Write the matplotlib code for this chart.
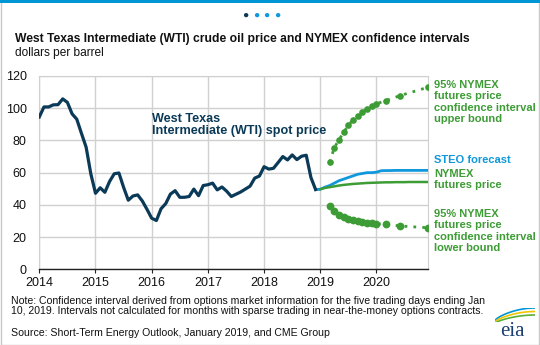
import numpy as np
import pandas as pd
import matplotlib
matplotlib.use("Agg")
import matplotlib.pyplot as plt
from matplotlib.patches import Rectangle

plt.rcParams['font.family'] = ['Liberation Sans', 'DejaVu Sans']

# ---- data (dollars per barrel) ----
wti_start = '2014-01'
wti_spot = [94.6, 100.8, 100.8, 102.1, 102.2, 105.8, 103.6, 96.5, 93.2, 84.4, 75.8, 59.3,
            47.2, 50.6, 47.8, 54.5, 59.3, 59.8, 50.9, 42.9, 45.5, 46.2, 42.4, 37.2,
            31.7, 30.3, 37.6, 40.8, 46.7, 48.8, 44.7, 44.7, 45.2, 49.8, 45.7, 52.0,
            52.5, 53.5, 49.3, 51.1, 48.5, 45.2, 46.6, 48.0, 49.8, 51.6, 56.6, 57.9,
            63.7, 62.2, 62.7, 66.3, 70.0, 67.9, 71.0, 68.1, 70.2, 70.8, 57.0, 49.5]

steo_start = '2018-12'
steo_forecast = [49.5, 49.7, 51.0, 52.0, 53.5, 55.0, 56.0, 57.0, 58.0, 59.0, 59.5, 60.0, 60.0,
                 60.3, 61.2, 61.3, 61.3, 61.4, 61.4, 61.4, 61.4, 61.4, 61.4, 61.4, 61.4]

nymex_start = '2019-01'
nymex_futures = [49.7, 50.5, 51.0, 51.5, 52.0, 52.4, 52.7, 53.0, 53.2, 53.4, 53.6, 53.7,
                 53.8, 53.9, 54.0, 54.0, 54.1, 54.1, 54.1, 54.2, 54.2, 54.2, 54.2, 54.2]

ci_dates = ['2019-03', '2019-04', '2019-05', '2019-06', '2019-07', '2019-08', '2019-09',
            '2019-10', '2019-11', '2019-12', '2020-01', '2020-03', '2020-06', '2020-12']
ci_upper = [66.4, 75.5, 80.5, 85.0, 89.5, 92.7, 95.4, 97.6, 99.7, 101.4, 102.8, 104.7, 107.8, 113.0]
ci_lower = [39.5, 36.5, 34.0, 32.5, 31.3, 30.5, 29.8, 29.2, 28.8, 28.5, 28.3, 27.9, 26.9, 25.8]

year_ticks = [2014, 2015, 2016, 2017, 2018, 2019, 2020]


def frac_years(dates):
    d = pd.to_datetime(dates)
    return d.year + (d.month - 1) / 12.0


def monthly(start, n):
    return frac_years(pd.date_range(start, periods=n, freq='MS'))


NAVY = '#0a3a57'
BLUE = '#0f98dc'
GREEN = '#3d9c35'

fig = plt.figure(figsize=(5.4, 3.45), dpi=100)

# frame, top bar and page dots
fig.patches.append(Rectangle((0.001, 0.001), 0.997, 0.996, transform=fig.transFigure,
                             fill=False, edgecolor='#c8c8c8', linewidth=1))
fig.patches.append(Rectangle((0, 0.992), 1, 0.008, transform=fig.transFigure,
                             facecolor='#0096d6', edgecolor='none'))
for i, c in enumerate([NAVY, '#0f98dc', '#0f98dc', '#0f98dc']):
    fig.text((245.5 + i * 10.6) / 540, 1 - 14.5 / 345, '\u25CF', color=c, fontsize=7.5,
             ha='center', va='center')

fig.text(15 / 540, 1 - 39 / 345, 'West Texas Intermediate (WTI) crude oil price and NYMEX confidence intervals',
         fontsize=8.7, fontweight='bold', color='#111111', va='center')
fig.text(15 / 540, 1 - 53 / 345, 'dollars per barrel', fontsize=8.6, color='#111111', va='center')

ax = fig.add_axes([39.3 / 540, 1 - 269.3 / 345, (428 - 39.3) / 540, (269.3 - 76) / 345])

ax.plot(monthly(wti_start, len(wti_spot)), wti_spot, color=NAVY, lw=2.3, solid_joinstyle='round', zorder=4)
ax.plot(monthly(steo_start, len(steo_forecast)), steo_forecast, color=BLUE, lw=2.0, zorder=3)
ax.plot(monthly(nymex_start, len(nymex_futures)), nymex_futures, color=GREEN, lw=1.8, zorder=3)
ax.plot(frac_years(ci_dates), ci_upper, color=GREEN, lw=2, ls=(0, (1, 2.2)), marker='o',
        ms=4.8, markeredgewidth=0, zorder=3)
ax.plot(frac_years(ci_dates), ci_lower, color=GREEN, lw=2, ls=(0, (1, 2.2)), marker='o',
        ms=5.6, markeredgewidth=0, zorder=3)

ax.set_xlim(2014, 2020 + 11 / 12)
ax.set_ylim(0, 120)
ax.set_xticks(year_ticks)
ax.set_xticklabels([str(y) for y in year_ticks])
ax.set_yticks(range(0, 121, 20))
ax.grid(True, color='#d0d0d0', lw=1)
ax.set_axisbelow(True)
for s in ['top', 'right', 'left']:
    ax.spines[s].set_color('#d0d0d0')
ax.spines['bottom'].set_color('#222222')
ax.spines['bottom'].set_linewidth(1)
ax.tick_params(axis='y', length=0, pad=9, labelsize=9, labelcolor='#111111')
ax.tick_params(axis='x', length=3, direction='out', color='#222222', pad=2.5, labelsize=9,
               labelcolor='#111111')
ax.set_facecolor('white')

ax.text(2016.0, 89.6, 'West Texas\nIntermediate (WTI) spot price', color=NAVY, fontsize=9.1,
        fontweight='bold', va='center', ha='left', linespacing=1.1)

# right-side labels
lab = dict(fontsize=8, fontweight='bold', va='center', linespacing=1.15)
fig.text(434 / 540, 1 - 102 / 345, '95% NYMEX\nfutures price\nconfidence interval\nupper bound',
         color=GREEN, **lab)
fig.text(434 / 540, 1 - 160 / 345, 'STEO forecast', color=BLUE, **lab)
fig.text(434 / 540, 1 - 179.5 / 345, 'NYMEX\nfutures price', color=GREEN, **lab)
fig.text(434 / 540, 1 - 231 / 345, '95% NYMEX\nfutures price\nconfidence interval\nlower bound',
         color=GREEN, **lab)

# notes
fig.text(11 / 540, 1 - 305.7 / 345,
         'Note: Confidence interval derived from options market information for the five trading days ending Jan\n'
         '10, 2019. Intervals not calculated for months with sparse trading in near-the-money options contracts.',
         fontsize=7.6, color='#111111', va='center', linespacing=1.05)
fig.text(11 / 540, 1 - 332.7 / 345, 'Source: Short-Term Energy Outlook, January 2019, and CME Group',
         fontsize=7.6, color='#111111', va='center')

# eia logo
fig.text(512 / 540, 1 - 331 / 345, 'eia', fontsize=15, color='#1b3f73', family='Liberation Serif',
         ha='center', va='center')
lax = fig.add_axes([495 / 540, 1 - 322 / 345, 40 / 540, 14 / 345])
lax.set_xlim(0, 1)
lax.set_ylim(0, 1)
lax.axis('off')
t = np.linspace(0, 1, 30)
lax.plot(t, 0.1 + 0.9 * np.sin(t * np.pi / 2) ** 0.7, color='#0096d6', lw=1.2)
lax.plot(t, 0.0 + 0.75 * np.sin(t * np.pi / 2) ** 0.7, color='#f2c500', lw=1.2)
lax.plot(t, -0.1 + 0.6 * np.sin(t * np.pi / 2) ** 0.7, color='#5bb035', lw=1.2)

fig.savefig('out.png', dpi=100)
